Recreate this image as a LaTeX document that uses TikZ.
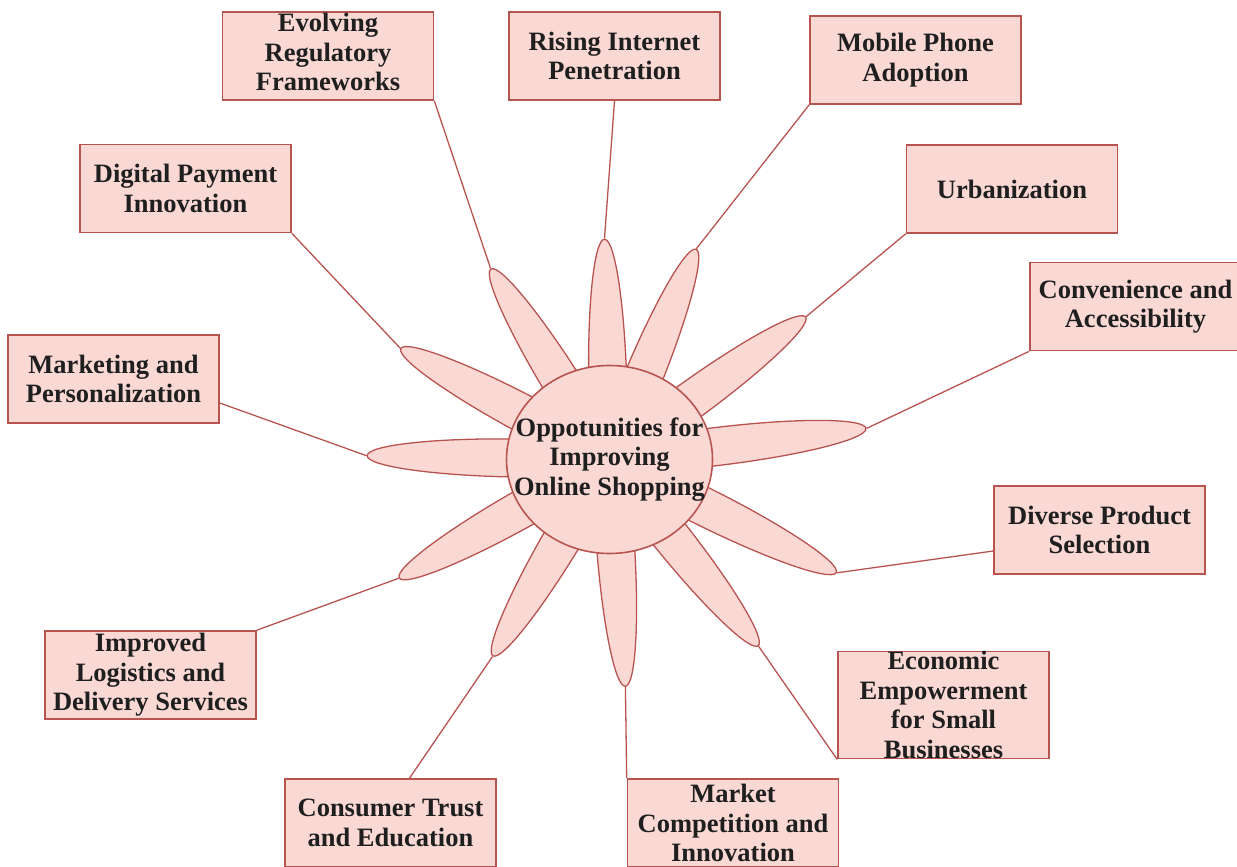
\documentclass[tikz,border=0pt]{standalone}
\usepackage{fontspec}
\setmainfont{Liberation Serif}
\usetikzlibrary{shapes.geometric,calc}
\definecolor{petalfill}{HTML}{FAD9D5}
\definecolor{petalline}{HTML}{B85450}
\begin{document}
\begin{tikzpicture}[x=1pt,y=1pt,
  txt/.style={align=center, font=\fontsize{26.5}{29.5}\selectfont\bfseries, text=black!88},
  box/.style={txt, draw=petalline, fill=petalfill, line width=1.6pt,
    minimum width=211pt, minimum height=88pt, inner sep=0pt},
  link/.style={draw=petalline, line width=1.3pt},
  petal/.style={ellipse, draw=petalline, fill=petalfill, line width=1.3pt,
    minimum width=300pt, minimum height=38pt, inner sep=0pt},
  disc/.style={draw=petalline, fill=petalfill, line width=1.6pt}]
\useasboundingbox (0,0) rectangle (1237,-867);

% centre of the flower
\coordinate (c) at (609.5,-459.5);

% petal tips: angle / distance from the centre
\foreach \ang/\dist [count=\i] in {91.3/221, 67.6/228, 36.0/243, 6.9/259,
    -26.5/254, -51.4/239, -86.0/228, -120.7/229, -150.6/242, 179.1/243,
    152.0/237, 121.9/225}
  \coordinate (p\i) at ($(c)+(\ang:\dist)$);

% outer boxes
\node[box] (b1)  at (614.5,-56)   {Rising Internet\\Penetration};
\node[box] (b2)  at (915.5,-60)   {Mobile Phone\\Adoption};
\node[box] (b3)  at (1012,-189)   {Urbanization};
\node[box] (b4)  at (1135.5,-306.5) {Convenience and\\Accessibility};
\node[box] (b5)  at (1099.5,-530) {Diverse Product\\Selection};
\node[box] (b6)  at (943.5,-705)  {Economic\\Empowerment\\for Small\\Businesses};
\node[box] (b7)  at (733,-823)    {Market\\Competition and\\Innovation};
\node[box] (b8)  at (390.5,-823)  {Consumer Trust\\and Education};
\node[box] (b9)  at (150.5,-675)  {Improved\\Logistics and\\Delivery Services};
\node[box] (b10) at (113.5,-379)  {Marketing and\\Personalization};
\node[box] (b11) at (185.5,-188.5) {Digital Payment\\Innovation};
\node[box, text depth=8pt] (b12) at (328,-56) {Evolving\\Regulatory\\Frameworks};

% connectors from boxes to petal tips
\draw[link] (b1.south) -- (p1);
\draw[link] (b2.south west) -- (p2);
\draw[link] (b3.south west) -- (p3);
\draw[link] (b4.south west) -- (p4);
\draw[link] ([yshift=-21pt]b5.west) -- (p5);
\draw[link] (b6.south west) -- (p6);
\draw[link] (b7.north west) -- (p7);
\draw[link] ([xshift=19pt]b8.north) -- (p8);
\draw[link] (b9.north east) -- (p9);
\draw[link] ([yshift=-24pt]b10.east) -- (p10);
\draw[link] (b11.south east) -- (p11);
\draw[link] (b12.south east) -- (p12);

% petals, each ending at its tip
\foreach \ang [count=\i] in {91.3, 67.6, 36.0, 6.9, -26.5, -51.4, -86.0,
    -120.7, -150.6, 179.1, 152.0, 121.9}
  \node[petal, rotate=\ang, anchor=east] (pet\i) at (p\i) {};

% hub disc and its caption
\draw[disc] (c) ellipse [x radius=103, y radius=94];
\node[txt, inner sep=0pt] (hub) at (c) {Oppotunities for\\Improving\\Online Shopping};
\end{tikzpicture}
\end{document}
